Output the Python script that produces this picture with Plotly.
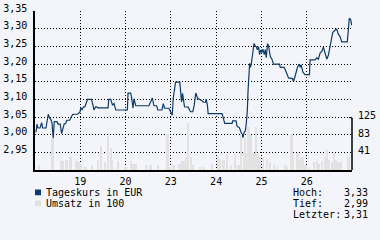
import plotly.graph_objects as go

# ---- data ----
day_ticks = [1, 2, 3, 4, 5, 6, 7]
day_labels = ["19", "20", "23", "24", "25", "26", ""]
price_ticks = [2.95, 3.00, 3.05, 3.10, 3.15, 3.20, 3.25, 3.30, 3.35]
vol_ticks = [41, 83, 125]

price_t = [0.022, 0.044, 0.066, 0.110, 0.147, 0.169, 0.242, 0.293, 0.315, 0.352, 0.374, 0.403,
           0.425, 0.484, 0.513, 0.557, 0.588, 0.616, 0.645, 0.676, 0.704, 0.764, 0.792, 0.830,
           0.865, 0.940, 0.991, 1.013, 1.035, 1.072, 1.101, 1.160, 1.248, 1.277, 1.305, 1.336,
           1.365, 1.387, 1.613, 1.629, 1.673, 1.710, 1.746, 1.783, 2.040, 2.054, 2.113, 2.135,
           2.164, 2.186, 2.223, 2.516, 2.591, 2.626, 2.685, 2.714, 2.802, 2.833, 2.862, 2.956,
           3.009, 3.031, 3.053, 3.104, 3.198, 3.220, 3.236, 3.258, 3.280, 3.302, 3.383, 3.434,
           3.484, 3.515, 3.551, 3.588, 3.676, 3.727, 3.764, 3.779, 3.808, 3.823, 4.132, 4.145,
           4.167, 4.189, 4.352, 4.365, 4.440, 4.462, 4.512, 4.534, 4.572, 4.594, 4.616, 4.645,
           4.667, 4.689, 4.704, 4.722, 4.739, 4.755, 4.777, 4.805, 4.836, 4.865, 4.887, 4.909,
           4.937, 4.959, 4.990, 5.012, 5.034, 5.063, 5.085, 5.107, 5.135, 5.157, 5.195, 5.232,
           5.267, 5.400, 5.415, 5.503, 5.525, 5.562, 5.598, 5.686, 5.708, 5.745, 5.767, 5.796,
           5.833, 5.855, 5.877, 5.915, 5.965, 6.060, 6.075, 6.185, 6.223, 6.258, 6.295, 6.333,
           6.368, 6.405, 6.443, 6.478, 6.515, 6.553, 6.575, 6.626, 6.663, 6.698, 6.736, 6.773,
           6.896, 6.918, 6.940, 6.971, 6.993]
price_v = [3.007, 3.030, 3.019, 3.019, 3.034, 3.019, 3.019, 3.058, 3.049, 3.043, 3.034, 2.990,
           3.037, 3.037, 3.030, 3.030, 3.003, 3.019, 3.031, 3.031, 3.041, 3.041, 3.049, 3.057,
           3.058, 3.058, 3.064, 3.076, 3.070, 3.079, 3.079, 3.100, 3.100, 3.084, 3.070, 3.079,
           3.079, 3.076, 3.076, 3.100, 3.100, 3.084, 3.088, 3.070, 3.070, 3.118, 3.118, 3.104,
           3.075, 3.102, 3.082, 3.082, 3.104, 3.082, 3.082, 3.070, 3.070, 3.088, 3.075, 3.075,
           3.061, 3.055, 3.104, 3.149, 3.149, 3.123, 3.093, 3.117, 3.098, 3.079, 3.078, 3.065,
           3.065, 3.083, 3.118, 3.104, 3.097, 3.092, 3.092, 3.101, 3.083, 3.060, 3.060, 3.051,
           3.038, 3.032, 3.032, 3.039, 3.039, 3.024, 3.020, 3.011, 2.997, 2.992, 3.006, 3.011,
           3.033, 3.069, 3.123, 3.190, 3.202, 3.191, 3.201, 3.228, 3.258, 3.251, 3.249, 3.241,
           3.249, 3.227, 3.241, 3.233, 3.242, 3.227, 3.241, 3.218, 3.258, 3.252, 3.222, 3.214,
           3.200, 3.200, 3.191, 3.191, 3.182, 3.173, 3.161, 3.159, 3.150, 3.173, 3.177, 3.191,
           3.200, 3.191, 3.198, 3.177, 3.170, 3.170, 3.212, 3.212, 3.218, 3.214, 3.231, 3.236,
           3.248, 3.231, 3.214, 3.225, 3.248, 3.268, 3.290, 3.296, 3.299, 3.285, 3.278, 3.263,
           3.263, 3.295, 3.330, 3.326, 3.310]

vol_t = [0.095, 0.392, 0.576, 0.620, 0.700, 0.788, 0.920, 0.973, 1.024, 1.123, 1.270, 1.398,
         1.468, 1.545, 1.618, 1.677, 1.710, 1.845, 2.003, 2.131, 2.179, 2.234, 2.461, 2.553,
         2.718, 2.932, 2.994, 3.066, 3.196, 3.258, 3.308, 3.335, 3.390, 3.445, 3.495, 3.654,
         3.727, 3.918, 4.039, 4.094, 4.167, 4.242, 4.332, 4.424, 4.497, 4.561, 4.618, 4.649,
         4.682, 4.717, 4.772, 4.832, 4.880, 4.937, 4.968, 5.047, 5.122, 5.195, 5.289, 5.342,
         5.525, 5.562, 5.672, 5.708, 5.800, 5.833, 5.873, 5.928, 5.981, 6.053, 6.168, 6.225,
         6.278, 6.350, 6.405, 6.460, 6.505, 6.560, 6.608, 6.641, 6.698, 6.753, 6.929]
vol_v = [11, 74, 21, 21, 23, 32, 21, 19, 15, 8, 11, 24,
         57, 19, 80, 52, 23, 21, 8, 21, 15, 15, 11, 11,
         11, 85, 8, 11, 14, 21, 21, 30, 112, 32, 11, 8,
         6, 15, 34, 27, 23, 39, 11, 39, 11, 85, 41, 76,
         39, 102, 83, 41, 102, 39, 30, 30, 27, 19, 11, 6,
         11, 8, 85, 32, 41, 21, 32, 30, 11, 6, 19, 21,
         15, 21, 32, 47, 23, 19, 41, 23, 19, 19, 32]

price_name = "Tageskurs in EUR"
vol_name = "Umsatz in 100"

# ---- style ----
BG = "#F4F5FA"
LINE = "#0B3A6C"
VOL = "#E2E2E2"
FONT = "DejaVu Sans Mono"
W, H = 380, 240
L, R, T, B = 34, 28, 3, 70
PW, PH = W - L - R, H - T - B


def px(x):
    return (x - L) / PW


def py(y):
    return (H - B - y) / PH


def de(v):
    return f"{v:.2f}".replace(".", ",")


fig = go.Figure()
fig.add_trace(go.Bar(x=vol_t, y=vol_v, yaxis="y2", width=0.04, name=vol_name,
                     marker=dict(color=VOL, line=dict(width=0)), showlegend=False))
fig.add_trace(go.Scatter(x=price_t, y=price_v, mode="lines", name=price_name,
                         line=dict(color=LINE, width=1.2), showlegend=False))

vol_max = 125 * PH / 55.0

fig.update_layout(
    width=W, height=H,
    margin=dict(l=L, r=R, t=T, b=B, pad=0),
    paper_bgcolor=BG, plot_bgcolor=BG,
    font=dict(family=FONT, size=10, color="#000"),
    bargap=0,
    xaxis=dict(range=[0, 7], tickvals=day_ticks, ticktext=day_labels,
               showgrid=True, gridcolor="#000", gridwidth=1, griddash="1px,2px",
               showline=True, linecolor="#000", linewidth=2, ticks="",
               zeroline=False, ticklabelstandoff=1, fixedrange=True),
    yaxis=dict(range=[2.90, 3.3505], tickvals=price_ticks,
               ticktext=[de(v) for v in price_ticks],
               showgrid=True, gridcolor="#000", gridwidth=1, griddash="1px,2px",
               showline=True, linecolor="#000", linewidth=1.5, ticks="",
               zeroline=False, ticklabelstandoff=4, ticklabelshift=-3,
               ticklabeloverflow="allow"),
    yaxis2=dict(range=[0, vol_max], overlaying="y", side="right",
                tickvals=vol_ticks, ticktext=[str(v) for v in vol_ticks],
                showgrid=False, showline=False, ticks="", zeroline=False,
                ticklabelstandoff=5, ticklabelshift=-2, ticklabeloverflow="allow"),
    showlegend=False,
)

# right axis line for the volume scale
fig.add_shape(type="line", xref="paper", yref="y2", x0=1, x1=1, y0=0, y1=125,
              line=dict(color="#000", width=1.5))
fig.add_shape(type="line", xref="paper", yref="y2", x0=1 - 3 / PW, x1=1, y0=125, y1=125,
              line=dict(color="#000", width=1))

# legend squares
fig.add_shape(type="rect", xref="paper", yref="paper", x0=px(34), x1=px(40),
              y0=py(196.5), y1=py(190.5), fillcolor=LINE, line=dict(width=0))
fig.add_shape(type="rect", xref="paper", yref="paper", x0=px(34), x1=px(40),
              y0=py(208), y1=py(202), fillcolor=VOL, line=dict(width=0))

ann = [
    (px(43), py(193.3), price_name, "left"),
    (px(43), py(205), vol_name, "left"),
    (px(291), py(193.3), "Hoch:", "left"),
    (px(291), py(205), "Tief:", "left"),
    (px(291), py(216.7), "Letzter:", "left"),
    (px(370), py(193.3), de(max(price_v)), "right"),
    (px(370), py(205), de(min(price_v)), "right"),
    (px(370), py(216.7), de(price_v[-1]), "right"),
]
for x, y, t, a in ann:
    fig.add_annotation(x=x, y=y, xref="paper", yref="paper", text=t, showarrow=False,
                       xanchor=a, yanchor="middle", font=dict(family=FONT, size=10, color="#000"))

fig.write_html("out.html")
